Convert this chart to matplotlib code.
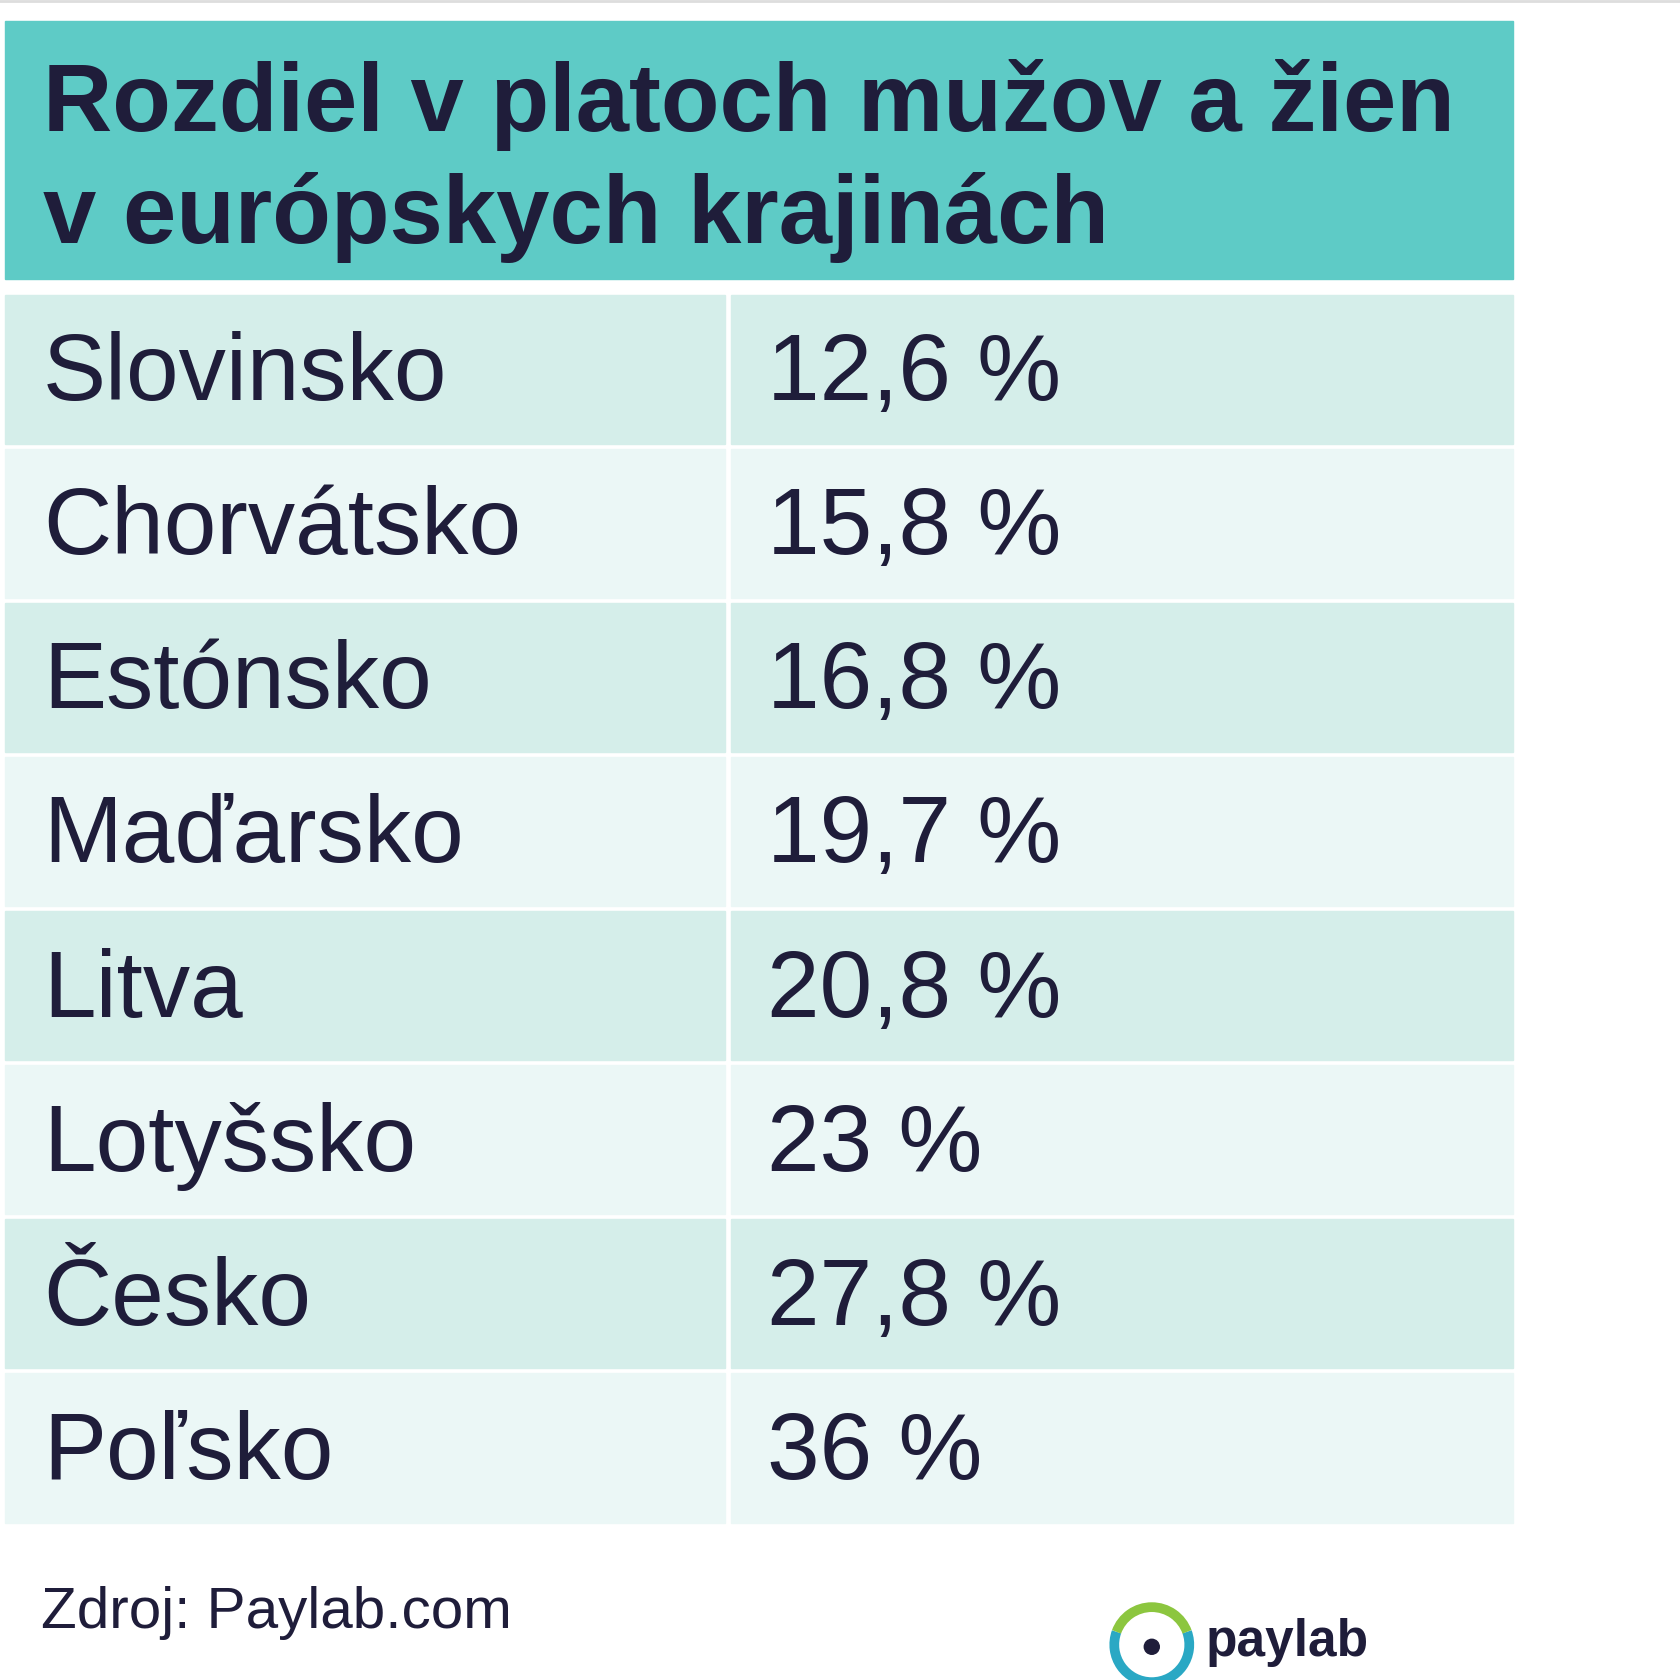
import matplotlib
matplotlib.use("Agg")
import matplotlib.pyplot as plt
from matplotlib.patches import Rectangle, Arc, Circle

title = "Rozdiel v platoch mužov a žien\nv európskych krajinách"
countries = ["Slovinsko", "Chorvátsko", "Estónsko", "Maďarsko", "Litva", "Lotyšsko", "Česko", "Poľsko"]
values = ["12,6 %", "15,8 %", "16,8 %", "19,7 %", "20,8 %", "23 %", "27,8 %", "36 %"]
source = "Zdroj: Paylab.com"

W = 1568
fig = plt.figure(figsize=(16.8, 16.8), dpi=100)
ax = fig.add_axes([0, 0, 1, 1])
ax.set_xlim(0, W); ax.set_ylim(W, 0); ax.axis("off")
txt = "#1f1d3a"
ax.plot([0, W], [1, 1], color="#dddddd", lw=2)
ax.add_patch(Rectangle((5, 20), 1407, 240, color="#5ecbc6"))
ax.text(40, 150, title, fontsize=69, fontweight="bold", color=txt, va="center",
        family="Liberation Sans", linespacing=1.3)
top, h = 275, 143.75
for i, (c, v) in enumerate(zip(countries, values)):
    y = top + i * h
    col = "#d5eeea" if i % 2 == 0 else "#ebf7f6"
    ax.add_patch(Rectangle((5, y), 672, h - 4, color=col))
    ax.add_patch(Rectangle((682, y), 730, h - 4, color=col))
    ax.text(40, y + h / 2 + 4, c, fontsize=68, color=txt, va="center", family="Liberation Sans")
    ax.text(716, y + h / 2 + 4, v, fontsize=68, color=txt, va="center", family="Liberation Sans")
ax.text(38, 1505, source, fontsize=42, color=txt, va="center", family="Liberation Sans")
ax.add_patch(Arc((1075, 1535), 70, 70, theta1=-20, theta2=200, color="#2aa8c4", lw=7))
ax.add_patch(Arc((1075, 1535), 70, 70, theta1=200, theta2=340, color="#8cc63f", lw=7))
ax.add_patch(Circle((1075, 1537), 7, color=txt))
ax.text(1125, 1533, "paylab", fontsize=37, fontweight="bold", color=txt, va="center",
        family="Liberation Sans")
fig.savefig("out.png", dpi=100, facecolor="white")
